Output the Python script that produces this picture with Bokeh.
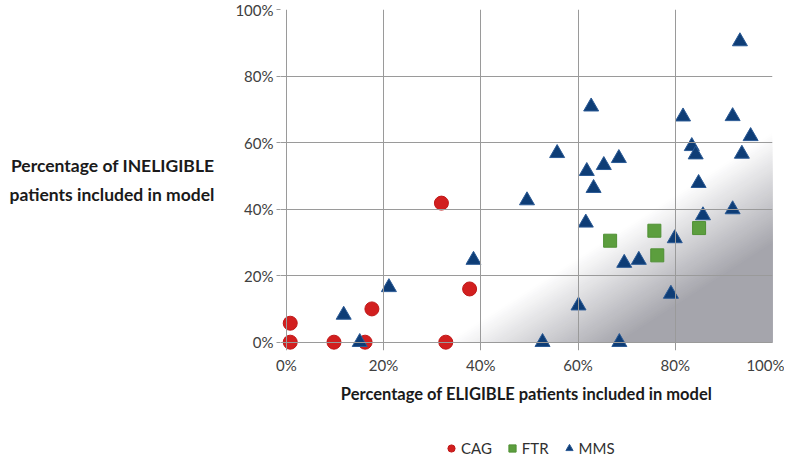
import numpy as np
from bokeh.plotting import figure
from bokeh.models import Range1d, Legend, LegendItem, NumeralTickFormatter, FixedTicker
from bokeh.layouts import column
from bokeh.embed import file_html
from bokeh.resources import INLINE

# ---- data (fractions) ----
cag_x = [0.008, 0.008, 0.098, 0.162, 0.176, 0.319, 0.328, 0.377]
cag_y = [0.057, 0.0, 0.0, 0.0, 0.100, 0.418, 0.0, 0.160]

ftr_x = [0.666, 0.757, 0.763, 0.849]
ftr_y = [0.305, 0.335, 0.261, 0.343]

mms_x = [0.933, 0.627, 0.816, 0.918, 0.955, 0.834, 0.842, 0.937, 0.557, 0.684,
         0.653, 0.618, 0.632, 0.848, 0.495, 0.918, 0.857, 0.616, 0.799, 0.695,
         0.725, 0.385, 0.211, 0.791, 0.601, 0.118, 0.151, 0.527, 0.685]
mms_y = [0.904, 0.708, 0.678, 0.679, 0.619, 0.589, 0.564, 0.566, 0.568, 0.553,
         0.532, 0.514, 0.463, 0.478, 0.426, 0.399, 0.381, 0.359, 0.312, 0.238,
         0.247, 0.247, 0.165, 0.145, 0.110, 0.082, 0.0, 0.0, 0.0]

ticks = [0, 0.2, 0.4, 0.6, 0.8, 1.0]
series_names = ["CAG", "FTR", "MMS"]

FONT = "Lato"
STY = {
    "CAG": dict(marker="circle", size=14, fill_color="#d21f1f", line_color="#c01818"),
    "FTR": dict(marker="square", size=13, fill_color="#5c9e3e", line_color="#4f9034"),
    "MMS": dict(marker="triangle", size=15, fill_color="#0e3d76", line_color="#2b5a95"),
}

p = figure(width=784, height=420, output_backend="svg", toolbar_location=None,
           x_range=Range1d(-0.012, 1.0), y_range=Range1d(-0.025, 1.0),
           min_border_left=280, min_border_right=12, min_border_top=9, min_border_bottom=70)
p.outline_line_color = None
p.background_fill_color = "white"

# ---- gradient shading (lower-right) ----
k = 67.0 / 63.0
N = 48
s_max = 0.36
white = (255, 255, 255)
gray = (164, 164, 171)
xs, ys, cols = [], [], []
for i in range(N):
    c = 0.33 + s_max * i / N
    t = (i + 0.5) / N
    col = tuple(int(round(white[j] + (gray[j] - white[j]) * t)) for j in range(3))
    xs.append([c, 1.0, 1.0])
    ys.append([0.0, 0.0, (1.0 - c) / k])
    cols.append("#%02x%02x%02x" % col)
p.patches(xs, ys, fill_color=cols, line_color=None, level="underlay")

# ---- grid & axes ----
for g in (p.xgrid, p.ygrid):
    g.grid_line_color = "#9a9a9a"
    g.grid_line_width = 1
    g.level = "glyph"
p.xaxis.ticker = FixedTicker(ticks=ticks)
p.yaxis.ticker = FixedTicker(ticks=ticks)
p.xgrid.ticker = FixedTicker(ticks=ticks)
p.ygrid.ticker = FixedTicker(ticks=ticks)
for ax in (p.xaxis, p.yaxis):
    ax.formatter = NumeralTickFormatter(format="0%")
    ax.axis_line_color = None
    ax.minor_tick_line_color = None
    ax.major_tick_line_color = "#9a9a9a"
    ax.major_tick_in = 0
    ax.major_label_text_font = FONT
    ax.major_label_text_font_size = "15px"
    ax.major_label_text_color = "#404040"
    ax.axis_label_text_font = FONT
    ax.axis_label_text_font_style = "bold"
    ax.axis_label_text_color = "#1a1a1a"
p.xaxis.major_tick_out = 0
p.xaxis.major_label_standoff = 5
p.yaxis.major_tick_out = 4
p.yaxis.major_label_standoff = 3
p.xaxis.axis_label = "Percentage of ELIGIBLE patients included in model"
p.xaxis.axis_label_text_font_size = "16.5px"
p.xaxis.axis_label_standoff = 7

p.yaxis.axis_label = "Percentage of INELIGIBLE\npatients included in model"
p.yaxis.axis_label_orientation = "horizontal"
p.yaxis.axis_label_text_font_size = "17.5px"
p.yaxis.axis_label_text_line_height = 1.4
p.yaxis.axis_label_standoff = 18

# ---- series ----
srcs = {"CAG": (cag_x, cag_y), "FTR": (ftr_x, ftr_y), "MMS": (mms_x, mms_y)}
for name in series_names:
    x, y = srcs[name]
    p.scatter(x, y, line_width=1, **STY[name])

# ---- legend (separate strip below the chart; frame aligned with chart frame) ----
q = figure(width=784, height=36, output_backend="svg", toolbar_location=None,
           x_range=Range1d(0, 1), y_range=Range1d(0, 1),
           x_axis_location=None, y_axis_location=None,
           min_border_left=0, min_border_right=0, min_border_top=0, min_border_bottom=0)
q.outline_line_color = None
q.xgrid.visible = False
q.ygrid.visible = False
items = []
for name in series_names:
    st = dict(STY[name])
    st["size"] = st["size"] - 3
    r = q.scatter(x=np.array([np.nan]), y=np.array([np.nan]), line_width=1, **st)
    items.append(LegendItem(label=name, renderers=[r]))
legend = Legend(items=items, orientation="horizontal", location=(162, -1),
                label_text_font=FONT, label_text_font_size="15px", label_text_color="#303030",
                glyph_width=18, glyph_height=18, spacing=11, label_standoff=1,
                padding=0, margin=0, border_line_color=None, background_fill_alpha=0)
q.add_layout(legend)

open("out.html", "w").write(file_html(column(p, q), INLINE))
